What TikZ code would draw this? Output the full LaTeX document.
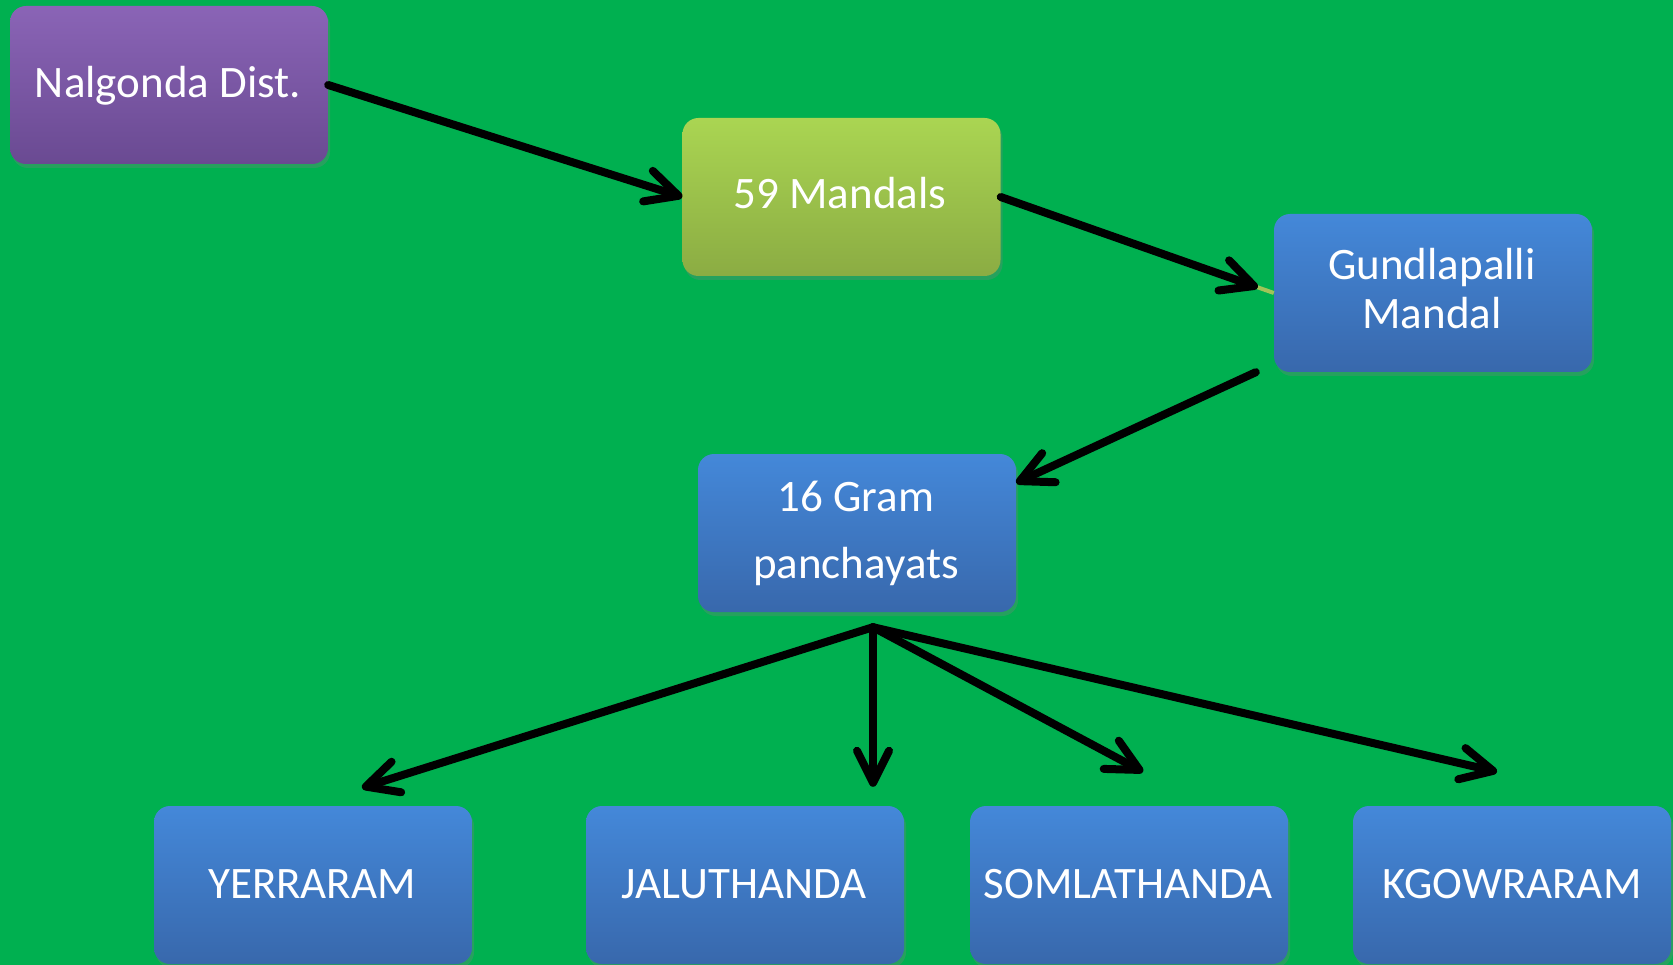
\documentclass[tikz,border=0pt]{standalone}
\usepackage{fontspec}
\setmainfont{Carlito}
\usetikzlibrary{arrows.meta,shadows}
\definecolor{bg}{RGB}{0,176,80}
\definecolor{purT}{RGB}{138,100,182}
\definecolor{purB}{RGB}{106,74,146}
\definecolor{grnT}{RGB}{170,213,82}
\definecolor{grnB}{RGB}{139,172,67}
\definecolor{bluT}{RGB}{68,136,217}
\definecolor{bluB}{RGB}{56,104,172}
\definecolor{olivel}{RGB}{160,196,88}
\begin{document}
\begin{tikzpicture}[x=1pt,y=-1pt,
  box/.style={rectangle, rounded corners=16pt, minimum width=318pt, minimum height=158pt, inner sep=0pt,
    drop shadow={shadow xshift=2pt, shadow yshift=-4pt, opacity=0.3}},
  purplebox/.style={box, top color=purT, bottom color=purB},
  greenbox/.style={box, top color=grnT, bottom color=grnB},
  bluebox/.style={box, top color=bluT, bottom color=bluB},
  txt/.style={text=white, font=\fontsize{45}{50}\selectfont, inner sep=0pt, anchor=base},
  arr/.style={draw=black, line width=8pt, line cap=round,
    -{Straight Barb[length=32pt,width=32pt,round]}},
  thinline/.style={draw=olivel, line width=4pt}
]
\fill[bg] (0,0) rectangle (1673,965);
\useasboundingbox (0,0) rectangle (1673,965);

% boxes
\node[purplebox] (nalg) at (169,85) {};
\node[greenbox] (mand) at (841.5,197) {};
\node[bluebox] (gund) at (1433,293) {};
\node[bluebox] (gram) at (857,533) {};
\node[bluebox] (yerr) at (313,885) {};
\node[bluebox] (jalu) at (745,885) {};
\node[bluebox] (soml) at (1129,885) {};
\node[bluebox] (kgow) at (1512,885) {};

% texts
\node[txt] (nalgt) at (168,98) {Nalgonda Dist.};
\node[txt] (mandt) at (840,209) {59 Mandals};
\node[txt] (gundt1) at (1432,280) {Gundlapalli};
\node[txt] (gundt2) at (1432,329) {Mandal};
\node[txt] (gramt1) at (856,511) {16 Gram};
\node[txt] (gramt2) at (856,578) {panchayats};
\node[txt] (yerrt) at (312,898) {YERRARAM};
\node[txt] (jalut) at (744,898) {JALUTHANDA};
\node[txt] (somlt) at (1128,898) {SOMLATHANDA};
\node[txt] (kgowt) at (1512,898) {KGOWRARAM};

% connectors
\draw[arr] (nalg.east) -- (mand.west);
\draw[thinline] (mand.east) -- (gund.west);
\draw[arr, shorten >=17pt] (mand.east) -- (gund.west);
\coordinate (a3s) at ([xshift=-18pt]gund.south west);
\coordinate (a3e) at ([yshift=-29pt]gram.north east);
\draw[arr] (a3s) -- (a3e);
\coordinate (hub) at ([xshift=16pt,yshift=-15pt]gram.south);
\coordinate (tY) at ([xshift=49pt,yshift=18pt]yerr.north);
\coordinate (tJ) at ([xshift=128pt,yshift=19pt]jalu.north);
\coordinate (tS) at ([xshift=14pt,yshift=34pt]soml.north);
\coordinate (tK) at ([xshift=-15pt,yshift=34pt]kgow.north);
\draw[arr] (hub) -- (tY);
\draw[arr] (hub) -- (tJ);
\draw[arr] (hub) -- (tS);
\draw[arr] (hub) -- (tK);
\end{tikzpicture}
\end{document}
